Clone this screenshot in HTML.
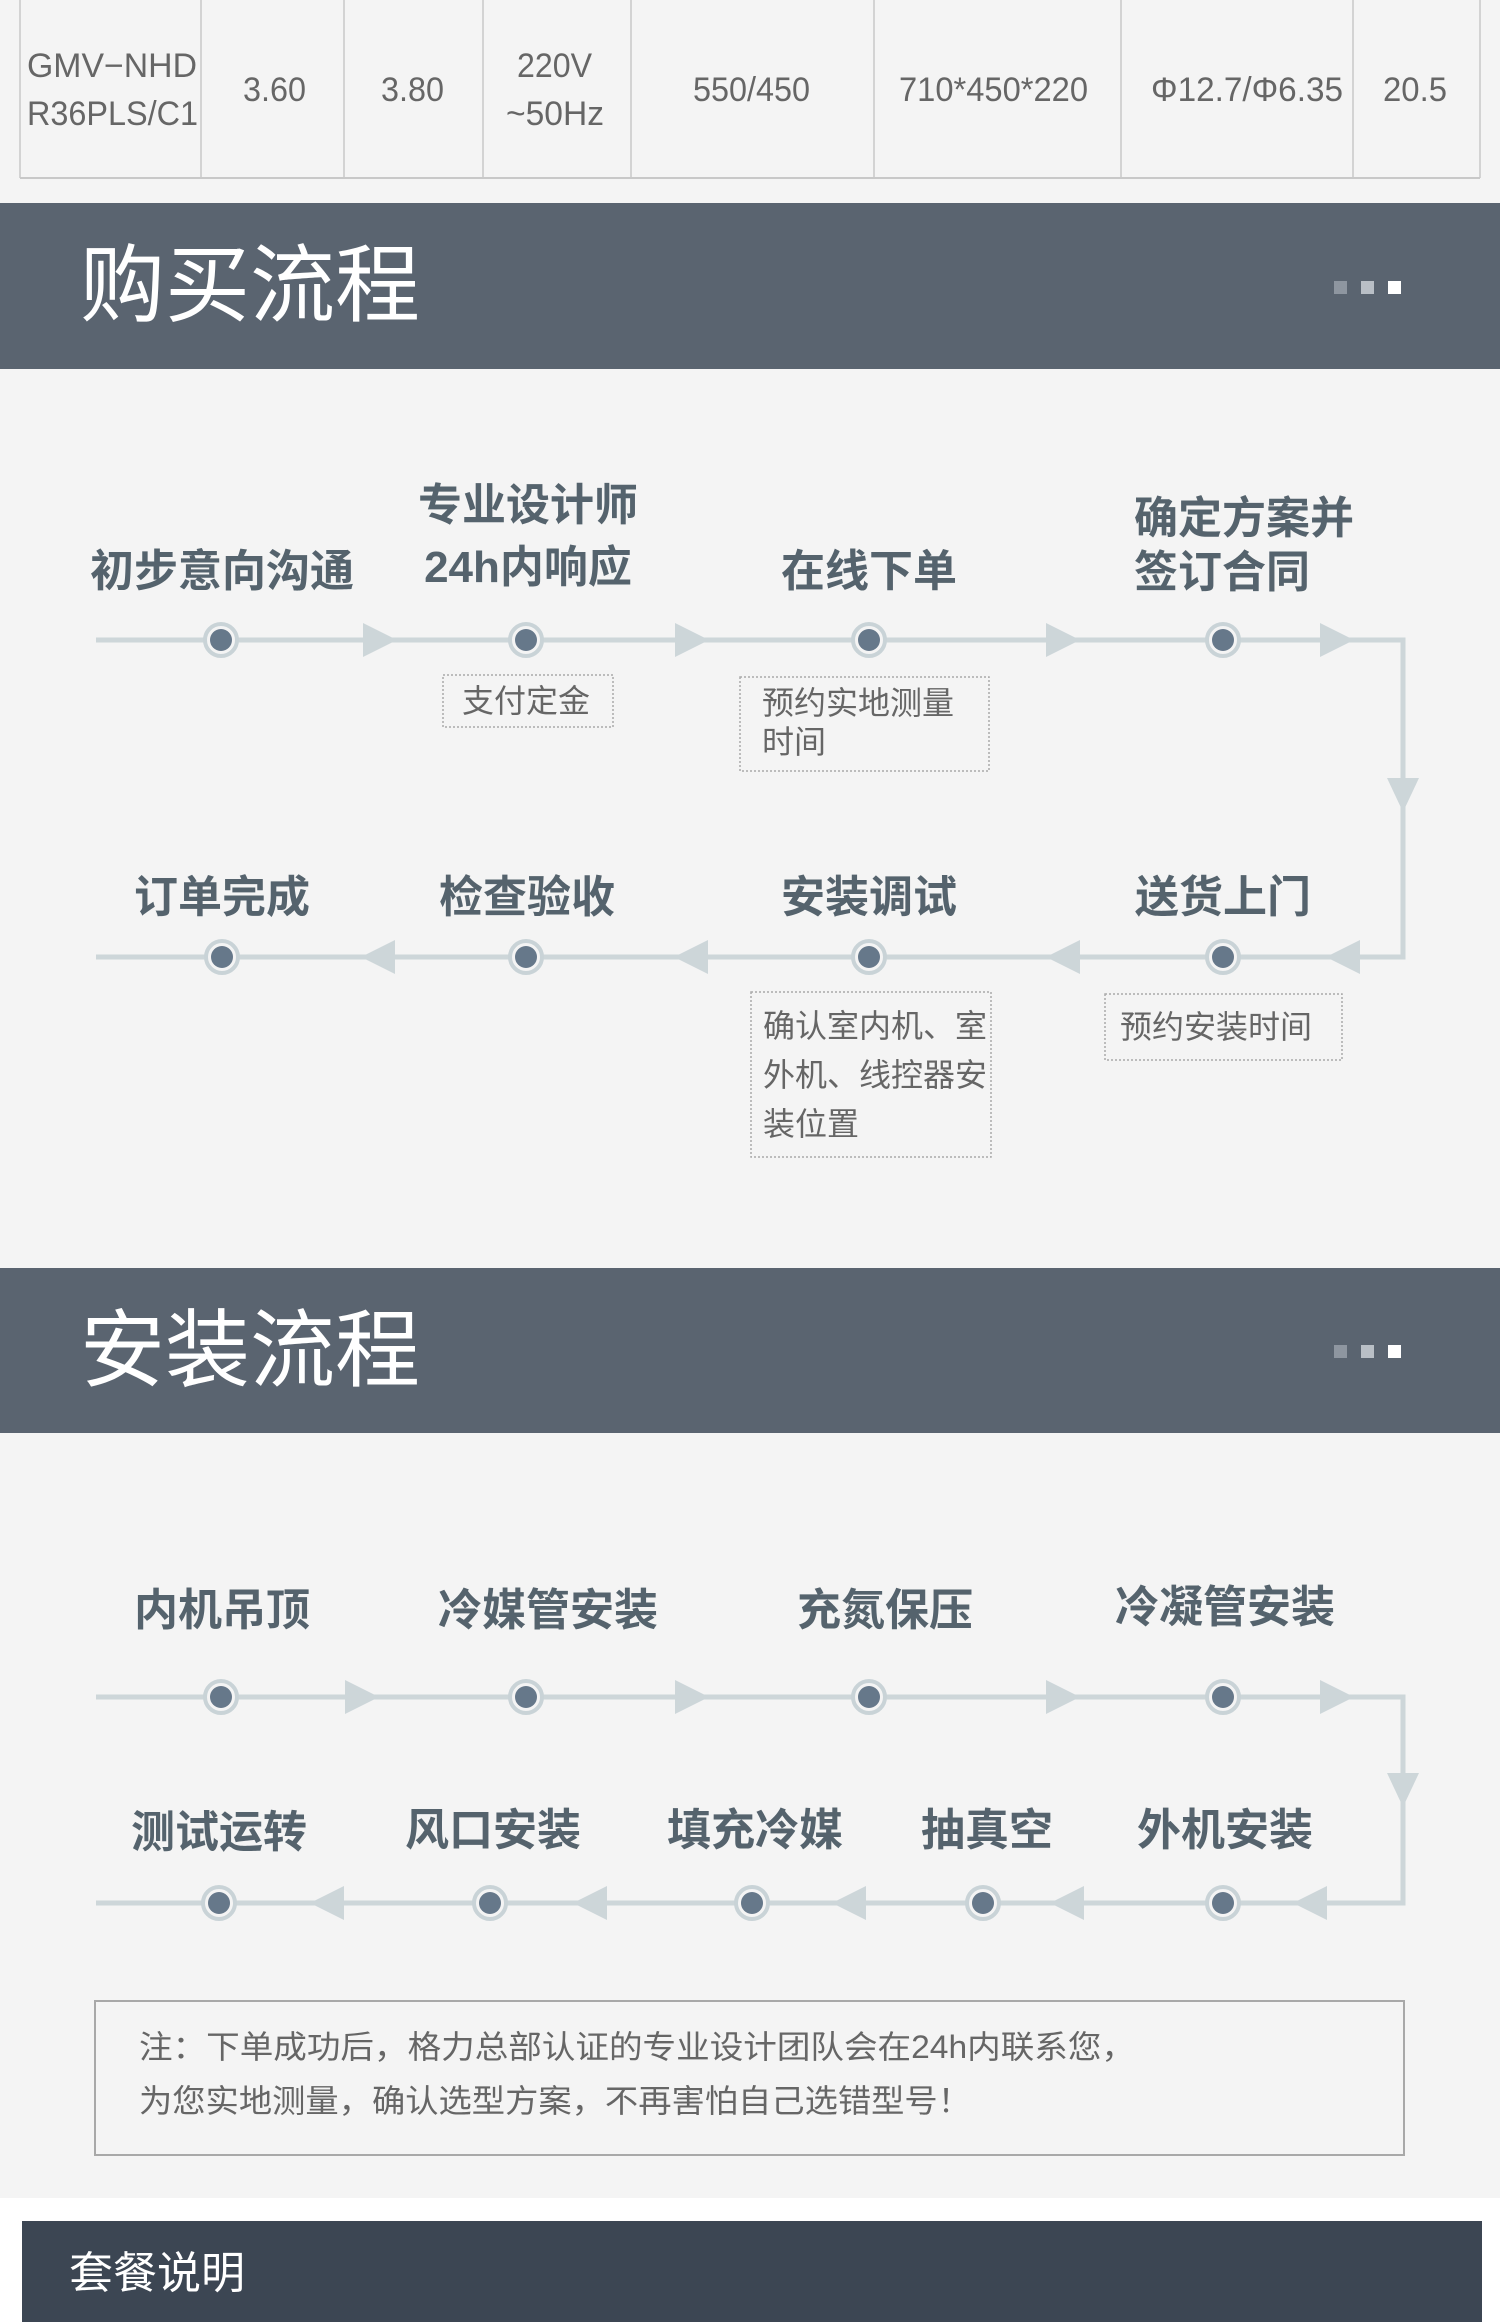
<!DOCTYPE html>
<html><head><meta charset="utf-8"><style>
html,body{margin:0;padding:0;background:#f4f4f4;}
svg{display:block;}
</style></head><body>
<svg width="1500" height="2322" viewBox="0 0 1500 2322" xmlns="http://www.w3.org/2000/svg" font-family="'Liberation Sans','Noto Sans CJK SC',sans-serif">
<defs>
<g id="nd"><circle r="16" fill="#f4f4f4" stroke="#c9d3d7" stroke-width="4"/><circle r="11" fill="#66788a"/></g>
<polygon id="ar" points="0,-17 34,0 0,17" fill="#cdd6d9"/>
<polygon id="al" points="0,-17 -34,0 0,17" fill="#cdd6d9"/>
<polygon id="ad" points="-16,0 16,0 0,34" fill="#cdd6d9"/>
</defs>
<rect width="1500" height="2322" fill="#f4f4f4"/>
<rect x="0" y="2198" width="1500" height="124" fill="#ffffff"/>
<g stroke="#c8c8c8" stroke-width="1.5" fill="none">
<line x1="20" y1="0" x2="20" y2="178"/>
<line x1="1480" y1="0" x2="1480" y2="178"/>
<line x1="20" y1="178" x2="1480" y2="178" stroke-width="2"/>
<line x1="201" y1="0" x2="201" y2="178"/><line x1="344" y1="0" x2="344" y2="178"/>
<line x1="483" y1="0" x2="483" y2="178"/><line x1="631" y1="0" x2="631" y2="178"/>
<line x1="874" y1="0" x2="874" y2="178"/><line x1="1121" y1="0" x2="1121" y2="178"/>
<line x1="1353" y1="0" x2="1353" y2="178"/>
</g>
<g fill="#666" font-size="34">
<text x="27" y="77" textLength="170" lengthAdjust="spacingAndGlyphs">GMV−NHD</text>
<text x="27" y="125" textLength="171" lengthAdjust="spacingAndGlyphs">R36PLS/C1</text>
<text x="243" y="101" textLength="63" lengthAdjust="spacingAndGlyphs">3.60</text>
<text x="381" y="101" textLength="63" lengthAdjust="spacingAndGlyphs">3.80</text>
<text x="517" y="77" textLength="75" lengthAdjust="spacingAndGlyphs">220V</text>
<text x="506" y="125" textLength="98" lengthAdjust="spacingAndGlyphs">~50Hz</text>
<text x="693" y="101" textLength="117" lengthAdjust="spacingAndGlyphs">550/450</text>
<text x="899" y="101" textLength="189" lengthAdjust="spacingAndGlyphs">710*450*220</text>
<text x="1151" y="101" textLength="192" lengthAdjust="spacingAndGlyphs">Φ12.7/Φ6.35</text>
<text x="1383" y="101" textLength="64" lengthAdjust="spacingAndGlyphs">20.5</text>
</g>
<rect x="0" y="203" width="1500" height="166" fill="#5a6470"/>
<text x="80" y="315" font-size="85" fill="#fff">购买流程</text>
<rect x="1334" y="281" width="13" height="13" fill="#8e96a0"/>
<rect x="1361" y="281" width="13" height="13" fill="#b9bfc6"/>
<rect x="1388" y="281" width="13" height="13" fill="#fff"/>
<g stroke="#cdd6d9" stroke-width="5" fill="none">
<polyline points="96,640 1403,640 1403,957 96,957"/>
</g>
<use href="#ar" x="363" y="640"/><use href="#ar" x="675" y="640"/><use href="#ar" x="1046" y="640"/><use href="#ar" x="1320" y="640"/>
<use href="#ad" x="1403" y="778"/>
<use href="#al" x="395" y="957"/><use href="#al" x="708" y="957"/><use href="#al" x="1080" y="957"/><use href="#al" x="1360" y="957"/>
<use href="#nd" x="221" y="640"/><use href="#nd" x="526" y="640"/><use href="#nd" x="869" y="640"/><use href="#nd" x="1223" y="640"/>
<use href="#nd" x="222" y="957"/><use href="#nd" x="526" y="957"/><use href="#nd" x="869" y="957"/><use href="#nd" x="1223" y="957"/>
<g fill="#55636d" font-size="44" font-weight="bold" text-anchor="middle">
<text x="222" y="586">初步意向沟通</text>
<text x="528" y="520">专业设计师</text>
<text x="528" y="582">24h内响应</text>
<text x="869" y="586">在线下单</text>
<text x="1134" y="533" text-anchor="start">确定方案并</text>
<text x="1134" y="587" text-anchor="start">签订合同</text>
<text x="222" y="912">订单完成</text>
<text x="527" y="912">检查验收</text>
<text x="869" y="912">安装调试</text>
<text x="1223" y="912">送货上门</text>
</g>
<g fill="none" stroke="#aaa" stroke-width="1.5" stroke-dasharray="2,2">
<rect x="443" y="675" width="170" height="52"/>
<rect x="740" y="677" width="249" height="94"/>
<rect x="751" y="992" width="240" height="165"/>
<rect x="1105" y="994" width="237" height="66"/>
</g>
<g fill="#666" font-size="32">
<text x="462" y="712">支付定金</text>
<text x="762" y="714">预约实地测量</text>
<text x="762" y="753">时间</text>
<text x="763" y="1037">确认室内机、室</text>
<text x="763" y="1086">外机、线控器安</text>
<text x="763" y="1135">装位置</text>
<text x="1120" y="1038">预约安装时间</text>
</g>
<rect x="0" y="1268" width="1500" height="165" fill="#5a6470"/>
<text x="80" y="1380" font-size="85" fill="#fff">安装流程</text>
<rect x="1334" y="1345" width="13" height="13" fill="#8e96a0"/>
<rect x="1361" y="1345" width="13" height="13" fill="#b9bfc6"/>
<rect x="1388" y="1345" width="13" height="13" fill="#fff"/>
<g stroke="#cdd6d9" stroke-width="5" fill="none">
<polyline points="96,1697 1403,1697 1403,1903 96,1903"/>
</g>
<use href="#ar" x="345" y="1697"/><use href="#ar" x="675" y="1697"/><use href="#ar" x="1046" y="1697"/><use href="#ar" x="1320" y="1697"/>
<use href="#ad" x="1403" y="1773"/>
<use href="#al" x="344" y="1903"/><use href="#al" x="607" y="1903"/><use href="#al" x="866" y="1903"/><use href="#al" x="1084" y="1903"/><use href="#al" x="1327" y="1903"/>
<use href="#nd" x="221" y="1697"/><use href="#nd" x="526" y="1697"/><use href="#nd" x="869" y="1697"/><use href="#nd" x="1223" y="1697"/>
<use href="#nd" x="219" y="1903"/><use href="#nd" x="490" y="1903"/><use href="#nd" x="752" y="1903"/><use href="#nd" x="983" y="1903"/><use href="#nd" x="1223" y="1903"/>
<g fill="#55636d" font-size="44" font-weight="bold" text-anchor="middle">
<text x="222" y="1625">内机吊顶</text>
<text x="548" y="1625">冷媒管安装</text>
<text x="885" y="1625">充氮保压</text>
<text x="1225" y="1622">冷凝管安装</text>
<text x="219" y="1847">测试运转</text>
<text x="493" y="1845">风口安装</text>
<text x="755" y="1845">填充冷媒</text>
<text x="987" y="1845">抽真空</text>
<text x="1225" y="1845">外机安装</text>
</g>
<rect x="95" y="2001" width="1309" height="154" fill="none" stroke="#a8a8a8" stroke-width="2"/>
<g fill="#666" font-size="32">
<text x="139" y="2058" textLength="996" lengthAdjust="spacingAndGlyphs">注：下单成功后，格力总部认证的专业设计团队会在24h内联系您，</text>
<text x="139" y="2112" textLength="832" lengthAdjust="spacingAndGlyphs">为您实地测量，确认选型方案，不再害怕自己选错型号！</text>
</g>
<rect x="22" y="2221" width="1460" height="101" fill="#3c4653"/>
<text x="69" y="2288" font-size="44" fill="#fff">套餐说明</text>
</svg>
</body></html>
